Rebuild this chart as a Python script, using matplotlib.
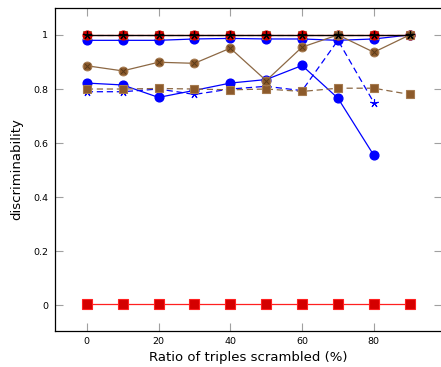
import matplotlib
matplotlib.use("Agg")
import matplotlib.pyplot as plt
import numpy as np

x_full = [0, 10, 20, 30, 40, 50, 60, 70, 80, 90]
x_to80 = [0, 10, 20, 30, 40, 50, 60, 70, 80]

blue_top = [0.980, 0.980, 0.980, 0.985, 0.987, 0.985, 0.985, 0.980, 0.985, 1.0]
blue_low = [0.822, 0.815, 0.769, 0.795, 0.822, 0.835, 0.887, 0.766, 0.555]
blue_dash = [0.790, 0.790, 0.800, 0.780, 0.800, 0.810, 0.794, 0.980, 0.750]
brown_circ = [0.886, 0.867, 0.899, 0.895, 0.951, 0.831, 0.955, 1.0, 0.936, 1.0]
brown_sq_low = [0.800, 0.800, 0.802, 0.800, 0.797, 0.800, 0.791, 0.803, 0.803, 0.780]
brown_sq_top = [1.0] * 10
red_top = [1.0, 1.0, 1.0, 1.0, 1.0, 1.0, 1.0, 1.0, 1.0, 1.0]
red_bottom = [0.005] * 10
black_top = [1.0] * 10

xticks = [0, 20, 40, 60, 80]
yticks = [0, 0.2, 0.4, 0.6, 0.8, 1.0]
yticklabels = ["0", "0.2", "0.4", "0.6", "0.8", "1"]

W, H = 441, 367
fig = plt.figure(figsize=(W / 100, H / 100), dpi=100)
ax = fig.add_axes([54.5 / W, 1 - 331 / H, (442 - 54.5) / W, (331 - 8) / H])

BLUE = "#0000ff"
BROWN_F = "#8c5a2b"
BROWN_E = "#a57a4f"
BROWN_L = "#8c6844"
RED_F = "#d40000"
RED_L = "#ff2020"
ast5 = (5, 2, 0)
ms = 6.3

# blue dashed with stars
ax.plot(x_to80, blue_dash, color=BLUE, lw=0.9, ls=(0, (5, 3)), marker=ast5,
        ms=6, mec=BLUE, mew=0.8, zorder=2)
# blue solid circles
ax.plot(x_full, blue_top, color=BLUE, lw=0.9, marker="o", ms=ms, mfc=BLUE, mec=BLUE, zorder=3)
ax.plot(x_to80, blue_low, color=BLUE, lw=0.9, marker="o", ms=ms, mfc=BLUE, mec=BLUE, zorder=3)
# brown dashed squares
for ys in (brown_sq_top, brown_sq_low):
    ax.plot(x_full, ys, color=BROWN_L, lw=0.9, ls=(0, (5, 3)), marker="s", ms=ms,
            mfc=BROWN_F, mec=BROWN_E, mew=0.8, zorder=4)
# red top circles
ax.plot(x_full, red_top, color=RED_L, lw=0.9, marker="o", ms=ms, mfc=RED_F, mec=RED_F, zorder=5)
# brown solid otimes
ax.plot(x_full, brown_circ, color=BROWN_L, lw=0.9, marker="o", ms=ms,
        mfc=BROWN_F, mec=BROWN_E, mew=0.8, zorder=6)
ax.plot(x_full, brown_circ, ls="none", marker="x", ms=ms * 0.6, mec="#5a3a1a", mew=0.7, zorder=6.5)
# red bottom squares
ax.plot(x_full, red_bottom, color=RED_L, lw=0.9, marker="s", ms=6.8, mfc=RED_F, mec=RED_L, mew=0.8, zorder=7)
# black stars
ax.plot(x_full, black_top, color="black", lw=0.9, marker=ast5, ms=6, mec="black", mew=0.9, zorder=8)

ax.set_xlim(-9, 99)
ax.set_ylim(-0.0945, 1.0995)
ax.set_xticks(xticks)
ax.set_yticks(yticks)
ax.set_yticklabels(yticklabels)
ax.tick_params(direction="in", length=5.5, width=0.8, color="#a0a0a0",
               top=True, right=True, labelsize=6.8, pad=4.5)
for s in ax.spines.values():
    s.set_linewidth(0.9)
    s.set_color("black")

ax.set_xlabel("Ratio of triples scrambled (%)", fontsize=9.5, labelpad=3.5)
ax.set_ylabel("discriminability", fontsize=9.5, labelpad=7)

fig.savefig("out.png", dpi=100)
